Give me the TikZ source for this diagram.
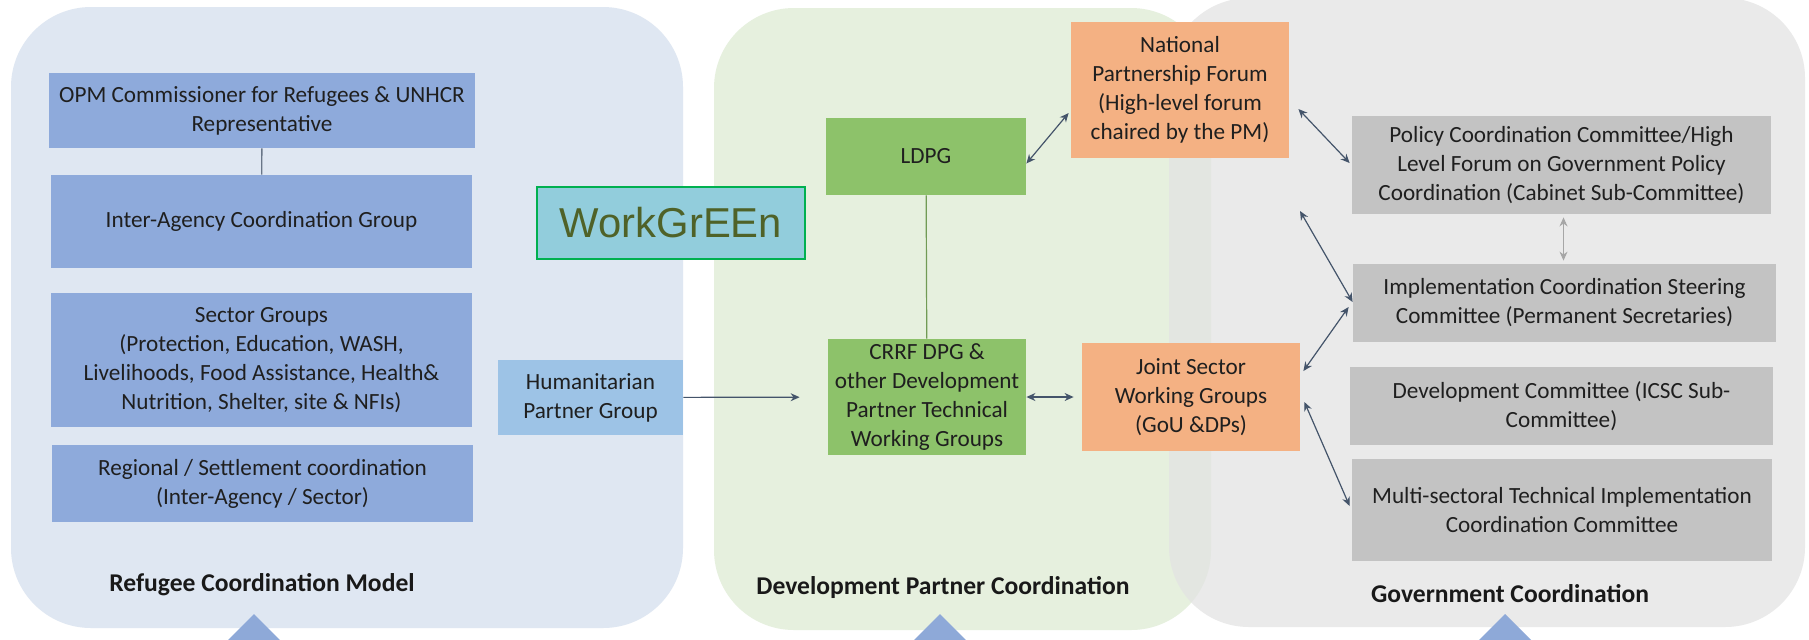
\documentclass[tikz,border=0pt]{standalone}
\usepackage{fontspec}
\setmainfont{Carlito}
\newfontfamily\arialfont{Liberation Sans}
\usetikzlibrary{arrows.meta,calc,positioning}
\definecolor{refbg}{HTML}{DFE7F2}
\definecolor{devbg}{HTML}{E6F0DE}
\definecolor{refbox}{HTML}{8EAADB}
\definecolor{humbox}{HTML}{9DC3E6}
\definecolor{devbox}{HTML}{8DC26A}
\definecolor{natbox}{HTML}{F4B183}
\definecolor{govbox}{HTML}{C3C3C3}
\definecolor{linkcol}{HTML}{44546A}
\definecolor{tricol}{HTML}{8EA9D8}
\definecolor{wgfill}{HTML}{92CDDC}
\definecolor{wgline}{HTML}{00B050}
\definecolor{wgtext}{HTML}{4F6228}
\tikzset{tip/.tip={Stealth[length=4.5pt,width=4pt]}}

\begin{document}
\begin{tikzpicture}[x=0.5pt,y=-0.5pt,
  box/.style={inner sep=1pt,align=center,text=black!88,font=\fontsize{11.6}{14.5}\selectfont},
  refugee/.style={box,fill=refbox},
  devel/.style={box,fill=devbox},
  national/.style={box,fill=natbox},
  govt/.style={box,fill=govbox},
  link/.style={draw=linkcol,line width=0.6pt,tip-tip},
  paneltitle/.style={font=\fontsize{12.8}{15}\selectfont\bfseries,text=black!90}]
\useasboundingbox (0,0) rectangle (1809,639);
\fill[white] (0,0) rectangle (1809,639);

\fill[refbg,rounded corners=40pt] (11,7) rectangle (683,628);
\fill[devbg,rounded corners=40pt] (714,8) rectangle (1211,630);
\fill[black!11,fill opacity=0.75,rounded corners=40pt] (1169,-2) rectangle (1805,627);

\foreach \cx in {254,940,1505}
  \fill[tricol] (\cx,614) -- (\cx-27,641) -- (\cx+27,641) -- cycle;

\node[refugee,minimum width=213pt,minimum height=37.5pt] (opm) at (262,110.5) {OPM Commissioner for Refugees \& UNHCR\\Representative};
\node[refugee,minimum width=210.5pt,minimum height=46.5pt] (iacg) at (261.5,221.5) {Inter-Agency Coordination Group};
\node[refugee,minimum width=210.5pt,minimum height=67pt] (sector) at (261.5,360) {Sector Groups\\(Protection, Education, WASH,\\Livelihoods, Food Assistance, Health\&\\Nutrition, Shelter, site \& NFIs)};
\node[refugee,minimum width=210.5pt,minimum height=38.5pt] (regional) at (262.5,483.5) {Regional / Settlement coordination\\(Inter-Agency / Sector)};
\node[box,fill=humbox,minimum width=92.5pt,minimum height=37.5pt] (hpg) at (590.5,397.5) {Humanitarian\\Partner Group};

\node[draw=wgline,line width=1pt,fill=wgfill,text=wgtext,font=\arialfont\fontsize{20.9}{24}\selectfont,minimum width=134pt,minimum height=36pt,inner sep=0pt] (wge) at (671,223) {WorkGrEEn};

\node[devel,minimum width=100pt,minimum height=38.5pt] (ldpg) at (926,156.5) {LDPG};
\node[devel,minimum width=99pt,minimum height=58pt] (crrf) at (927,397) {CRRF DPG \&\\other Development\\Partner Technical\\Working Groups};
\node[national,minimum width=109pt,minimum height=68pt] (npf) at (1180,90) {National\\Partnership Forum\\(High-level forum\\chaired by the PM)};
\node[national,minimum width=109pt,minimum height=54pt] (jswg) at (1191,397) {Joint Sector\\Working Groups\\(GoU \&DPs)};

\node[govt,minimum width=209.5pt,minimum height=49pt] (pcc) at (1561.5,165) {Policy Coordination Committee/High\\Level Forum on Government Policy\\Coordination (Cabinet Sub-Committee)};
\node[govt,minimum width=211.5pt,minimum height=39pt] (icsc) at (1564.5,303) {Implementation Coordination Steering\\Committee (Permanent Secretaries)};
\node[govt,minimum width=211.5pt,minimum height=39pt] (devc) at (1561.5,406) {Development Committee (ICSC Sub-\\Committee)};
\node[govt,minimum width=210pt,minimum height=51pt] (mstic) at (1562,510) {Multi-sectoral Technical Implementation\\Coordination Committee};

\node[paneltitle] (reftitle) at (262,585) {Refugee Coordination Model};
\node[paneltitle] (devtitle) at (943,587) {Development Partner Coordination};
\node[paneltitle] (govtitle) at (1510,594) {Government Coordination};

\draw[draw=linkcol!80,line width=0.7pt] (opm) -- (iacg);
\draw[draw=devbox!80!black,line width=0.6pt] (ldpg) -- (crrf);

\coordinate (gfree) at (1300,211);
\draw[draw=linkcol,line width=0.6pt,-tip,shorten >=14pt] (hpg) -- (crrf);
\draw[link,shorten >=4pt] (crrf) -- (jswg);
\draw[link] ($(ldpg.east)+(0,7)$) -- ($(npf.west)+(-2,23)$);
\draw[link] ($(npf.east)+(9,19)$) -- ($(pcc.west)+(-2,-2)$);
\draw[link] (gfree) -- ($(icsc.west)+(0,-1)$);
\draw[link] ($(jswg.east)+(3,-26)$) -- ($(icsc.west)+(-4,4)$);
\draw[link] ($(jswg.east)+(4,5)$) -- ($(mstic.west)+(-2,-4)$);
\draw[draw=black!35,line width=0.6pt,tip-tip] ($(pcc.south)+(2,3)$) -- ($(icsc.north)+(-1,-3)$);
\end{tikzpicture}
\end{document}
